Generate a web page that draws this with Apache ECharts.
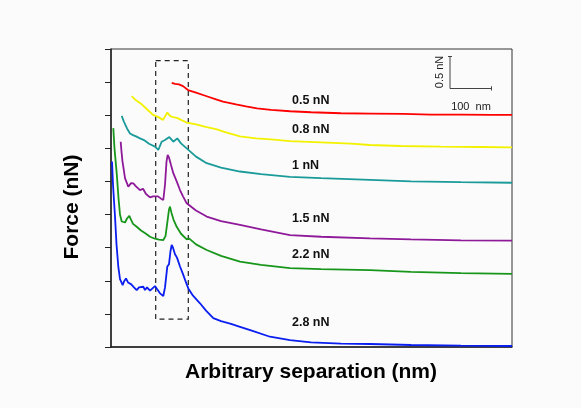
<!DOCTYPE html>
<html>
<head>
<meta charset="utf-8">
<script src="https://cdn.jsdelivr.net/npm/echarts@6/dist/echarts.min.js"></script>
<style>
  html, body { margin: 0; padding: 0; background: #fbfbfb; }
  #main { width: 581px; height: 408px; }
</style>
</head>
<body>
<div id="main"></div>
<script>
var myChart = echarts.init(document.getElementById('main'));

// curves: [separation (arb.), force (arb. offset units)]
var curve05 = [[60.7,7.98],[64,7.95],[68,7.93],[72,7.88],[77,7.76],[85,7.68],[95,7.58],[105,7.48],[112,7.41],[125,7.33],[135,7.27],[146,7.21],[160,7.16],[179,7.12],[200,7.09],[230,7.06],[260,7.05],[292,7.04],[320,7.02],[350,7.02],[380,7.01],[401,7.01]];
var curve08 = [[20.7,7.58],[25,7.45],[30,7.35],[36,7.18],[42,7.01],[47,6.95],[52,6.86],[54,6.9],[56.3,7.08],[59,6.98],[62,6.94],[66,6.92],[70,6.86],[75.7,6.78],[85,6.72],[95.7,6.64],[105,6.58],[115,6.48],[129,6.36],[145,6.3],[160,6.27],[179,6.22],[210,6.18],[240,6.14],[259,6.1],[290,6.07],[330,6.05],[370,6.04],[401,6.03]];
var curve1 = [[10.7,6.98],[13,6.8],[16,6.6],[19,6.45],[22,6.4],[25,6.36],[29,6.3],[33,6.25],[38,6.14],[44,6.05],[47.3,5.95],[50.7,6.2],[54,6.25],[58.3,6.34],[60,6.3],[62.3,6.2],[64,6.25],[66.3,6.3],[70,6.15],[75.7,6.0],[85,5.75],[95.7,5.55],[110,5.42],[129,5.3],[150,5.22],[179,5.14],[210,5.1],[259,5.05],[300,5.0],[350,4.98],[401,4.96]];
var curve15 = [[9.7,6.2],[10.5,5.9],[11.5,5.6],[12.3,5.45],[14,5.1],[17.3,4.84],[20,4.95],[22.3,4.94],[25,4.85],[29,4.74],[32,4.78],[35,4.62],[39,4.52],[42,4.55],[44,4.59],[47,4.55],[50,4.48],[52.3,4.44],[54,4.9],[55.5,5.6],[56.7,5.8],[58,5.72],[60,5.5],[62.3,5.25],[66,4.98],[69,4.74],[72,4.55],[75.7,4.34],[85,4.12],[95.7,3.94],[110,3.8],[129,3.69],[150,3.55],[179,3.38],[210,3.33],[259,3.28],[300,3.25],[350,3.22],[401,3.21]];
var curve22 = [[2.3,6.61],[3.5,6.0],[5.7,5.25],[7.5,4.5],[9,4.0],[10.7,3.79],[12.5,3.82],[14,3.76],[16,3.88],[18.3,3.96],[20,3.85],[22,3.72],[25.7,3.63],[30,3.52],[35,3.42],[39,3.33],[44,3.27],[48,3.24],[52.3,3.23],[54.5,3.35],[56.5,3.8],[58,4.15],[59,4.24],[60.5,4.05],[62.5,3.85],[65.7,3.63],[70,3.42],[75.7,3.25],[78,3.28],[85,3.1],[95.7,2.93],[110,2.75],[129,2.58],[150,2.48],[179,2.38],[210,2.35],[259,2.32],[300,2.27],[350,2.23],[401,2.21]];
var curve28 = [[1,5.6],[2,4.9],[4,3.94],[5.5,3.1],[7.3,2.43],[9,2.05],[11.7,1.87],[13,1.98],[15,2.07],[17,1.95],[20,1.9],[23,1.8],[25.7,1.72],[28,1.8],[30,1.74],[32.3,1.82],[34,1.72],[36,1.8],[39,1.7],[41,1.75],[44,1.84],[46,1.75],[49,1.62],[52.3,1.54],[54,1.8],[56.3,2.43],[58,2.5],[59.5,2.9],[60.7,3.08],[62,3.0],[64,2.8],[66,2.7],[69,2.43],[72,2.2],[75,1.95],[77.3,1.77],[82,1.55],[89,1.32],[95,1.1],[102.3,0.87],[110,0.78],[120,0.7],[129,0.61],[140,0.5],[159,0.31],[179,0.21],[200,0.14],[230,0.1],[259,0.09],[300,0.06],[350,0.04],[401,0.03]];

var loadNames = ['0.5 nN', '0.8 nN', '1 nN', '1.5 nN', '2.2 nN', '2.8 nN'];
var loadColors = ['#ff0000', '#f2f200', '#1b9a9a', '#8e1a99', '#17961a', '#0a1ef0'];
var curves = [curve05, curve08, curve1, curve15, curve22, curve28];
// label anchor (pixel) for each load
var labelY = [101, 130, 166, 219, 255, 323];

var series = [];
for (var i = 0; i < curves.length; i++) {
    series.push({
        name: loadNames[i],
        type: 'line',
        data: curves[i],
        showSymbol: false,
        smooth: false,
        lineStyle: { color: loadColors[i], width: 1.8 },
        z: 3
    });
}
// dashed box around the peaks
series[0].markArea = {
    silent: true,
    itemStyle: {
        color: 'rgba(0,0,0,0)',
        borderColor: '#222',
        borderWidth: 1.2,
        borderType: [5, 4]
    },
    data: [[{ coord: [44.7, 8.65] }, { coord: [77.3, 0.84] }]]
};

var graphics = [];
for (var j = 0; j < loadNames.length; j++) {
    graphics.push({
        type: 'text', left: 292, top: labelY[j] - 7,
        style: { text: loadNames[j], font: 'bold 12.5px "Liberation Sans", Arial', fill: '#111' }
    });
}
// axis titles
graphics.push({
    type: 'text', x: 72, y: 207, rotation: Math.PI / 2,
    style: { text: 'Force (nN)', font: 'bold 21px "Liberation Sans", Arial', fill: '#000', align: 'center', verticalAlign: 'middle' }
});
graphics.push({
    type: 'text', x: 311, y: 372,
    style: { text: 'Arbitrary separation (nm)', font: 'bold 21px "Liberation Sans", Arial', fill: '#000', align: 'center', verticalAlign: 'middle' }
});
// scale bar
graphics.push({
    type: 'polyline',
    shape: { points: [[448, 56.5], [452, 56.5], [450, 56.5], [450, 88.5], [491.5, 88.5], [491.5, 86.5], [491.5, 90.5]] },
    style: { stroke: '#444', lineWidth: 1, fill: null }
});
graphics.push({
    type: 'text', x: 440, y: 72, rotation: Math.PI / 2,
    style: { text: '0.5 nN', font: '11px "Liberation Sans", Arial', fill: '#222', align: 'center', verticalAlign: 'middle' }
});
graphics.push({
    type: 'text', x: 471, y: 107,
    style: { text: '100  nm', font: '11px "Liberation Sans", Arial', fill: '#222', align: 'center', verticalAlign: 'middle' }
});

option = {
    backgroundColor: '#fbfbfb',
    animation: false,
    grid: {
        left: 111,
        top: 49,
        right: 69,
        bottom: 61,
        show: true,
        borderColor: '#333',
        borderWidth: 1,
        backgroundColor: 'rgba(0,0,0,0)'
    },
    xAxis: {
        type: 'value',
        min: 0,
        max: 401,
        axisLine: { show: true, lineStyle: { color: '#222', width: 1.5 } },
        axisTick: { show: false },
        axisLabel: { show: false },
        splitLine: { show: false }
    },
    yAxis: {
        type: 'value',
        min: 0,
        max: 9,
        interval: 1,
        axisLine: { show: true, lineStyle: { color: '#222', width: 1.5 } },
        axisTick: { show: true, inside: false, length: 6, lineStyle: { color: '#222', width: 1 } },
        axisLabel: { show: false },
        splitLine: { show: false }
    },
    series: series,
    graphic: graphics
};

myChart.setOption(option);
</script>
</body>
</html>
